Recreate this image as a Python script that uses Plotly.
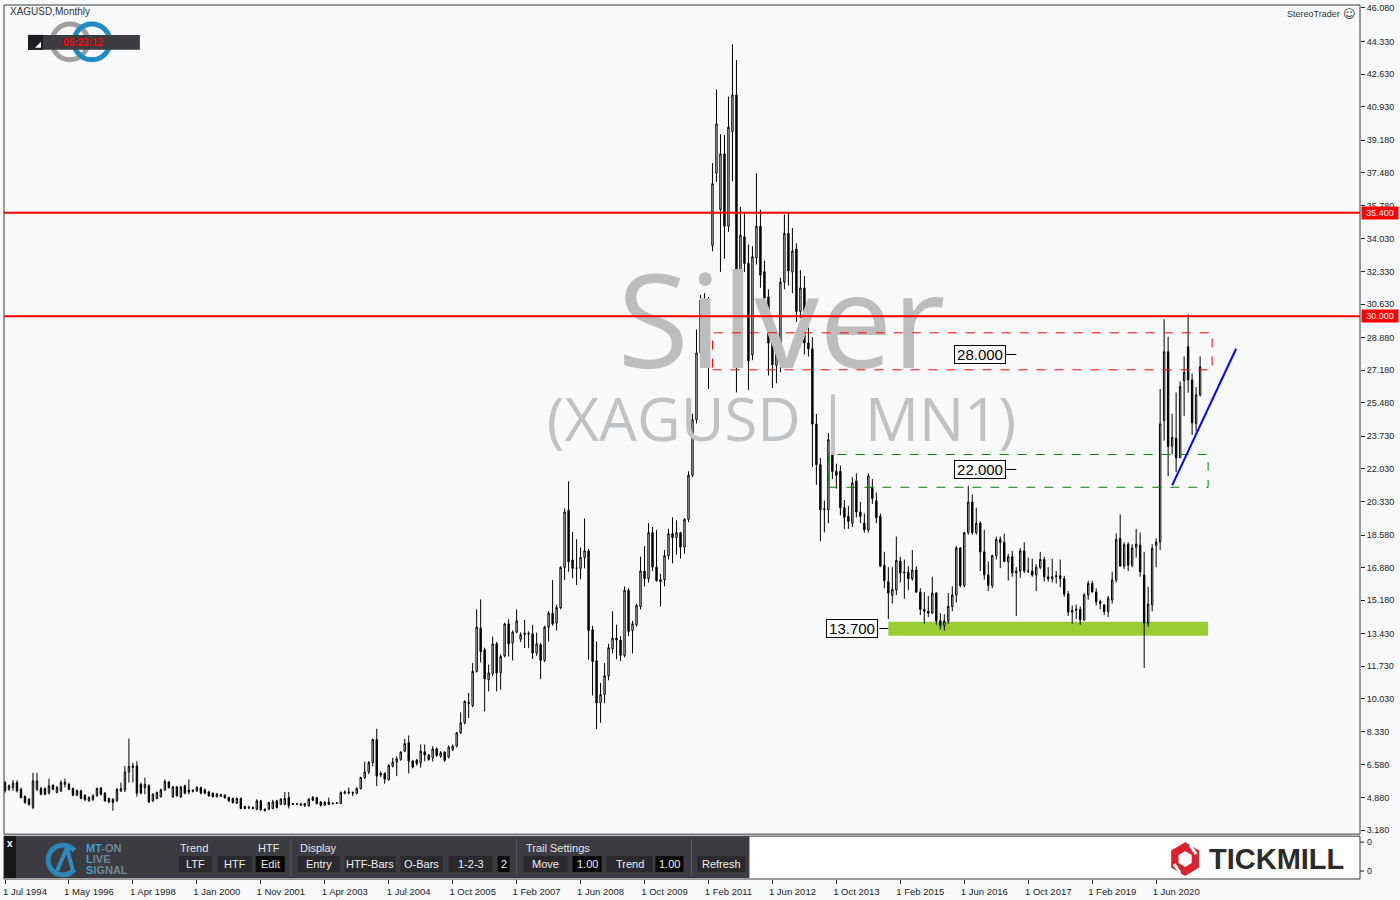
import math
import plotly.graph_objects as go

# ---------------- data (monthly XAGUSD candles) ----------------
bar_index = list(range(300))

opens = [
    5.66, 5.31, 5.40, 5.66, 5.31, 4.93, 4.79, 4.36, 5.31, 5.35,
    5.35, 5.11, 5.52, 5.14, 5.23, 5.57, 5.57, 5.35, 5.00, 5.23,
    5.00, 4.71, 4.76, 4.97, 5.37, 5.11, 4.83, 4.79, 4.71, 5.23,
    5.28, 6.21, 6.45, 6.53, 5.57, 5.40, 5.49, 4.71, 4.83, 4.93,
    5.28, 5.69, 4.91, 5.43, 4.91, 5.49, 5.28, 5.20, 5.23, 5.40,
    5.28, 5.17, 5.11, 4.93, 5.02, 5.00, 4.88, 4.83, 4.59, 4.83,
    4.41, 4.34, 4.36, 4.27, 4.71, 4.27, 4.27, 4.31, 4.71, 4.53,
    4.53, 4.88, 4.57, 4.53, 4.55, 4.57, 4.45, 4.88, 4.88, 4.65,
    4.48, 4.65, 4.55, 4.58, 4.57, 5.10, 5.12, 5.14, 5.11, 5.35,
    5.92, 6.21, 6.70, 7.91, 6.14, 6.14, 5.81, 6.52, 6.73, 6.87,
    7.30, 7.74, 6.78, 6.82, 6.70, 7.27, 7.10, 6.96, 7.42, 7.04,
    7.25, 6.99, 7.39, 7.56, 8.26, 8.78, 9.85, 9.68, 11.46, 13.72,
    12.59, 11.03, 11.34, 12.90, 11.41, 12.28, 13.94, 12.94, 13.51, 13.14,
    13.40, 13.45, 13.42, 12.42, 12.85, 12.04, 13.77, 14.50, 13.98, 14.79,
    16.89, 19.87, 17.27, 16.84, 16.84, 17.41, 17.74, 13.63, 12.02, 9.82,
    10.25, 11.24, 12.65, 13.20, 13.10, 12.30, 15.70, 13.60, 13.90, 14.85,
    16.70, 16.30, 18.70, 16.90, 16.15, 16.25, 17.50, 18.65, 18.45, 18.70,
    17.95, 19.40, 21.70, 24.60, 28.08, 30.88, 28.02, 33.69, 37.46, 35.56,
    38.47, 34.69, 39.63, 41.54, 29.70, 34.14, 32.75, 27.98, 33.04, 34.69,
    32.32, 31.00, 29.07, 27.43, 28.00, 31.78, 34.32, 32.30, 33.50, 30.25,
    31.47, 28.60, 28.30, 24.37, 22.25, 19.90, 19.90, 23.43, 21.90, 21.90,
    20.00, 19.55, 19.20, 21.40, 19.78, 19.20, 18.84, 21.07, 20.37, 19.55,
    17.00, 16.14, 15.43, 15.72, 17.22, 16.60, 16.65, 16.30, 16.75, 15.60,
    14.70, 14.60, 14.50, 15.55, 14.10, 13.85, 14.10, 14.85, 15.45, 17.90,
    15.95, 18.70, 20.30, 18.70, 19.20, 17.70, 16.50, 15.95, 17.50, 18.35,
    18.20, 17.20, 17.45, 16.60, 16.70, 17.75, 16.70, 16.70, 16.50, 16.90,
    17.30, 16.40, 16.30, 16.40, 16.45, 16.30, 15.50, 14.55, 14.65, 14.70,
    14.15, 15.45, 16.05, 15.60, 15.10, 14.93, 14.58, 15.19, 16.23, 18.40,
    16.96, 18.10, 17.00, 17.93, 18.05, 16.49, 13.98, 14.93, 18.04, 18.21,
    24.55, 28.14, 23.21, 23.63, 22.61, 26.63, 28.40, 26.67, 24.40, 25.90,
]
highs = [
    5.75, 5.57, 5.80, 5.78, 5.40, 5.00, 4.85, 6.18, 6.18, 5.45,
    5.40, 5.87, 5.57, 5.49, 5.78, 5.87, 5.66, 5.40, 5.31, 5.28,
    5.05, 4.95, 5.05, 5.40, 5.43, 5.17, 4.88, 4.85, 5.37, 5.66,
    6.53, 7.96, 6.70, 6.78, 5.66, 5.92, 5.57, 5.11, 5.20, 5.35,
    5.83, 5.75, 5.49, 5.49, 5.49, 5.55, 5.83, 5.31, 5.49, 5.45,
    5.35, 5.23, 5.14, 5.11, 5.07, 5.05, 4.93, 4.88, 4.88, 4.88,
    4.45, 4.45, 4.41, 4.79, 4.76, 4.31, 4.66, 4.76, 4.76, 4.85,
    5.17, 5.17, 4.60, 4.59, 4.60, 4.60, 4.85, 4.96, 4.92, 4.70,
    4.70, 4.88, 4.62, 4.65, 5.20, 5.25, 5.40, 5.20, 5.42, 5.97,
    6.75, 6.78, 7.95, 8.47, 6.25, 6.20, 6.62, 6.95, 7.04, 7.30,
    7.95, 8.12, 6.85, 6.90, 7.65, 7.65, 7.15, 7.56, 7.50, 7.30,
    7.30, 7.60, 7.65, 8.30, 9.33, 9.95, 10.34, 11.90, 14.70, 15.22,
    12.70, 11.81, 13.28, 13.00, 12.35, 14.00, 14.18, 13.60, 14.70, 13.50,
    14.15, 13.55, 13.89, 13.49, 12.95, 13.85, 14.60, 16.23, 14.93, 16.95,
    19.96, 21.38, 18.74, 18.36, 17.93, 19.44, 17.85, 13.84, 13.02, 10.86,
    11.90, 12.90, 14.60, 13.90, 13.30, 15.90, 15.80, 14.10, 15.00, 17.45,
    18.00, 19.20, 19.00, 18.85, 16.55, 17.80, 18.90, 19.50, 19.35, 18.75,
    19.45, 21.90, 24.90, 29.30, 31.10, 31.20, 31.00, 37.99, 41.83, 39.49,
    39.45, 41.45, 44.19, 43.36, 35.70, 35.38, 33.74, 33.65, 37.46, 35.56,
    32.90, 31.40, 29.40, 28.90, 32.00, 35.30, 35.42, 34.60, 33.80, 32.40,
    32.10, 29.40, 28.90, 24.90, 22.60, 20.37, 23.90, 25.20, 22.30, 22.20,
    20.40, 20.10, 21.60, 21.80, 20.30, 19.70, 21.80, 21.50, 20.80, 19.70,
    17.70, 16.90, 16.90, 18.50, 17.45, 17.30, 16.95, 17.80, 16.95, 15.80,
    15.60, 15.40, 16.40, 15.60, 14.50, 14.45, 15.55, 15.90, 18.00, 17.95,
    18.75, 21.15, 20.70, 20.00, 19.30, 18.85, 17.20, 17.55, 18.50, 18.50,
    18.65, 17.60, 17.75, 16.90, 17.90, 18.20, 17.40, 17.35, 17.05, 17.70,
    17.45, 16.90, 17.35, 16.70, 17.30, 16.45, 15.65, 14.90, 14.95, 14.85,
    15.55, 16.20, 16.20, 15.80, 15.20, 14.98, 15.40, 16.66, 18.66, 19.66,
    18.20, 18.20, 18.10, 18.90, 18.70, 17.70, 15.88, 18.10, 18.40, 26.20,
    29.84, 28.92, 24.90, 26.02, 26.60, 27.90, 30.10, 27.00, 26.30, 27.90,
]
lows = [
    5.14, 5.23, 5.23, 5.14, 4.83, 4.55, 4.45, 4.27, 5.23, 5.00,
    5.00, 5.05, 5.26, 5.10, 5.17, 5.40, 5.26, 4.95, 4.95, 4.79,
    4.71, 4.66, 4.71, 4.93, 5.00, 4.66, 4.59, 4.19, 4.66, 5.17,
    5.17, 5.66, 5.66, 4.93, 5.05, 5.05, 4.59, 4.65, 4.79, 4.88,
    5.23, 5.35, 4.86, 4.93, 4.86, 5.05, 5.05, 5.14, 5.17, 5.05,
    5.05, 4.93, 4.88, 4.88, 4.91, 4.83, 4.66, 4.57, 4.55, 4.27,
    4.27, 4.27, 4.27, 4.22, 4.19, 4.15, 4.22, 4.27, 4.31, 4.48,
    4.48, 4.31, 4.50, 4.50, 4.45, 4.40, 4.40, 4.70, 4.52, 4.40,
    4.45, 4.50, 4.53, 4.55, 4.53, 5.05, 5.05, 4.95, 5.05, 5.30,
    5.85, 6.10, 6.52, 5.48, 5.95, 5.60, 5.76, 6.45, 6.00, 6.80,
    7.25, 6.14, 6.40, 6.55, 6.44, 6.78, 6.80, 6.76, 7.00, 6.95,
    6.75, 6.92, 7.30, 7.50, 8.20, 8.70, 9.03, 9.60, 11.40, 11.93,
    9.38, 10.42, 11.20, 10.42, 10.51, 12.20, 12.24, 12.04, 13.45, 13.00,
    12.68, 12.68, 12.11, 12.28, 11.06, 11.95, 13.02, 13.85, 13.60, 14.70,
    16.23, 16.66, 16.32, 15.97, 16.27, 16.84, 12.07, 10.20, 8.46, 8.78,
    9.80, 11.00, 12.40, 12.10, 12.00, 12.20, 13.30, 12.40, 13.80, 14.70,
    15.90, 16.10, 16.70, 16.15, 14.85, 15.90, 17.30, 17.10, 17.55, 17.35,
    17.60, 19.25, 21.60, 24.40, 27.80, 27.70, 26.20, 33.39, 37.00, 32.31,
    33.00, 34.40, 37.03, 26.02, 28.45, 32.30, 26.15, 27.70, 32.70, 31.48,
    30.48, 26.90, 26.25, 26.50, 27.07, 31.40, 31.60, 31.20, 29.70, 29.90,
    28.00, 27.90, 22.13, 21.20, 18.25, 18.72, 19.20, 21.50, 21.00, 19.60,
    18.90, 18.90, 19.00, 19.50, 19.20, 18.70, 18.70, 20.20, 19.20, 16.90,
    15.80, 14.20, 15.00, 15.45, 16.10, 15.25, 15.70, 16.20, 15.55, 14.40,
    13.95, 14.30, 14.45, 13.90, 13.65, 13.60, 13.95, 14.60, 15.05, 15.85,
    15.85, 18.60, 18.60, 18.60, 16.70, 16.25, 15.65, 15.80, 17.30, 16.85,
    17.15, 16.20, 16.40, 14.35, 16.35, 16.60, 16.60, 16.40, 15.65, 16.80,
    16.15, 16.15, 16.10, 16.05, 15.85, 15.35, 14.35, 13.95, 14.20, 13.90,
    14.10, 15.20, 15.60, 14.90, 14.70, 14.40, 14.30, 15.00, 16.10, 16.95,
    16.80, 16.70, 16.90, 17.40, 16.40, 11.64, 13.80, 14.60, 16.90, 17.80,
    23.50, 21.65, 22.80, 21.86, 22.60, 24.80, 26.00, 23.80, 24.00, 25.80,
]
closes = [
    5.23, 5.49, 5.63, 5.23, 4.88, 4.62, 4.53, 5.75, 5.75, 5.05,
    5.05, 5.49, 5.31, 5.40, 5.66, 5.69, 5.31, 5.00, 5.23, 4.83,
    4.76, 4.88, 4.97, 5.35, 5.05, 4.71, 4.65, 4.62, 5.31, 5.35,
    6.21, 6.50, 6.53, 5.11, 5.11, 5.57, 4.65, 5.05, 5.14, 5.28,
    5.71, 5.40, 5.43, 4.97, 5.43, 5.11, 5.17, 5.26, 5.40, 5.11,
    5.11, 4.97, 4.93, 5.07, 4.95, 4.86, 4.71, 4.62, 4.83, 4.31,
    4.31, 4.37, 4.31, 4.71, 4.24, 4.20, 4.62, 4.65, 4.36, 4.79,
    4.83, 4.45, 4.53, 4.55, 4.48, 4.45, 4.79, 4.74, 4.57, 4.48,
    4.62, 4.53, 4.58, 4.60, 5.14, 5.17, 5.16, 5.11, 5.35, 5.92,
    6.21, 6.70, 7.91, 6.00, 6.06, 5.83, 6.56, 6.73, 6.90, 7.25,
    7.70, 6.78, 6.47, 6.65, 7.30, 7.10, 6.87, 7.42, 7.08, 7.22,
    6.82, 7.51, 7.56, 8.26, 8.78, 9.90, 9.80, 11.46, 13.77, 12.50,
    11.06, 11.38, 12.90, 11.38, 12.24, 13.94, 12.90, 13.51, 14.10, 13.37,
    13.45, 13.42, 12.42, 12.90, 12.04, 13.77, 14.50, 13.94, 14.79, 16.89,
    19.78, 17.18, 16.84, 16.86, 17.41, 17.76, 13.60, 11.98, 9.82, 10.25,
    11.24, 12.70, 13.20, 13.10, 12.30, 15.70, 13.55, 13.95, 14.90, 16.70,
    16.30, 18.70, 16.90, 16.20, 16.25, 17.50, 18.65, 18.45, 18.70, 17.95,
    19.40, 21.70, 24.60, 28.08, 30.83, 29.58, 30.62, 36.91, 40.03, 38.47,
    34.69, 39.86, 41.54, 29.63, 34.22, 32.75, 27.67, 33.10, 34.69, 32.14,
    30.95, 28.60, 27.47, 28.60, 31.78, 34.32, 32.36, 33.40, 30.25, 31.47,
    28.60, 28.30, 24.37, 22.25, 19.90, 19.95, 23.55, 21.90, 21.70, 20.00,
    19.50, 19.30, 21.30, 19.78, 19.55, 18.84, 21.66, 20.49, 19.48, 16.96,
    16.20, 15.55, 15.74, 17.25, 16.60, 16.65, 16.30, 16.75, 15.60, 14.70,
    14.60, 14.50, 15.55, 14.10, 13.85, 14.10, 14.85, 15.45, 17.90, 15.95,
    18.70, 20.30, 18.70, 19.20, 17.70, 16.50, 15.95, 17.50, 18.35, 18.20,
    17.20, 17.45, 16.60, 16.70, 17.75, 16.70, 16.70, 16.50, 16.90, 17.30,
    16.40, 16.30, 16.40, 16.45, 16.30, 15.50, 14.55, 14.65, 14.70, 14.15,
    15.45, 16.05, 15.60, 15.10, 15.00, 14.58, 15.28, 16.23, 18.35, 16.96,
    18.08, 17.00, 17.90, 18.10, 16.66, 13.98, 14.98, 17.88, 18.21, 24.38,
    28.14, 23.21, 23.68, 22.61, 26.32, 27.06, 26.67, 24.43, 25.90, 27.36,
]

x_tick_index = list(range(0, 289, 16))
x_tick_text = ["1 Jul 1994", "1 May 1996", "1 Apr 1998", "1 Jan 2000", "1 Nov 2001",
               "1 Apr 2003", "1 Jul 2004", "1 Oct 2005", "1 Feb 2007", "1 Jun 2008",
               "1 Oct 2009", "1 Feb 2011", "1 Jun 2012", "1 Oct 2013", "1 Feb 2015",
               "1 Jun 2016", "1 Oct 2017", "1 Feb 2019", "1 Jun 2020"]
y_tick_values = [46.08, 44.33, 42.63, 40.93, 39.18, 37.48, 35.78, 34.03, 32.33, 30.63,
                 28.88, 27.18, 25.48, 23.73, 22.03, 20.33, 18.58, 16.88, 15.18, 13.43,
                 11.73, 10.03, 8.33, 6.58, 4.88, 3.18]

resistance_levels = [35.4, 30.0]
zone_28 = dict(x0=177, x1=302, y0=27.20, y1=29.13)
zone_22 = dict(x0=206, x1=301, y0=21.07, y1=22.78)
support_zone = dict(x0=221, x1=301, y0=13.32, y1=14.05)
level_labels = [("28.000", 244, 28.0, 250.5, 253.0),
                ("22.000", 244, 22.0, 250.5, 253.0),
                ("13.700", 212, 13.7, 218.75, 221.0)]
trend_line = dict(x0=292, y0=21.17, x1=308, y1=28.30)
timer_text = "05:23:12"

# ---------------- geometry helpers (layout pixels -> paper) ----------------
L, R, T, B = 3, 1360, 3, 880
def PX(px):
    return (px - L) / (R - L)
def PY(py):
    return (B - py) / (B - T)

BG = "#F8F9FB"
FONT = "Liberation Sans"
shapes = []
annotations = []

def rect(x0, y0, x1, y1, fill=None, line=None, lw=1, layer="above"):
    d = dict(type="rect", xref="paper", yref="paper", x0=PX(x0), x1=PX(x1),
             y0=PY(y1), y1=PY(y0), layer=layer,
             line=dict(width=lw if line else 0, color=line or "rgba(0,0,0,0)"))
    if fill:
        d["fillcolor"] = fill
    shapes.append(d)

def pline(x0, y0, x1, y1, color, lw=1):
    shapes.append(dict(type="line", xref="paper", yref="paper", x0=PX(x0), x1=PX(x1),
                       y0=PY(y0), y1=PY(y1), line=dict(color=color, width=lw)))

def ppath(points, fill):
    path = "M " + " L ".join(f"{PX(x)},{PY(y)}" for x, y in points) + " Z"
    shapes.append(dict(type="path", xref="paper", yref="paper", path=path,
                       fillcolor=fill, line=dict(width=0)))

def text(t, px, py, size=10, color="#222222", xanchor="left", yanchor="middle",
         family=FONT, **kw):
    annotations.append(dict(text=t, xref="paper", yref="paper", x=PX(px), y=PY(py),
                            xanchor=xanchor, yanchor=yanchor, showarrow=False,
                            font=dict(size=size, color=color, family=family), **kw))

# ---------------- figure ----------------
fig = go.Figure()

fig.add_trace(go.Scatter(x=[194.25], y=[28.97], mode="text", text=["Silver"],
                         textposition="middle center", hoverinfo="skip",
                         textfont=dict(family="Open Sans", size=130, color="#BDBDBD")))
fig.add_trace(go.Scatter(x=[194.25], y=[24.25], mode="text", text=["(XAGUSD | MN1)"],
                         textposition="middle center", hoverinfo="skip",
                         textfont=dict(family="Open Sans", size=60, color="#C2C2C2")))

fig.add_trace(go.Candlestick(
    x=bar_index, open=opens, high=highs, low=lows, close=closes,
    increasing=dict(line=dict(color="#000000", width=1), fillcolor="#FFFFFF"),
    decreasing=dict(line=dict(color="#000000", width=1), fillcolor="#000000"),
    whiskerwidth=0, hoverinfo="skip"))

# support zone (below candles)
shapes.append(dict(type="rect", xref="x", yref="y", layer="below",
                   x0=support_zone["x0"], x1=support_zone["x1"],
                   y0=support_zone["y0"], y1=support_zone["y1"],
                   fillcolor="#9ACD32", line=dict(width=0)))
# dashed zones
for z, col in ((zone_28, "#FF0000"), (zone_22, "#008000")):
    shapes.append(dict(type="rect", xref="x", yref="y", x0=z["x0"], x1=z["x1"],
                       y0=z["y0"], y1=z["y1"], line=dict(color=col, width=1, dash="dash")))
# resistance lines
for lv in resistance_levels:
    shapes.append(dict(type="line", xref="paper", yref="y", x0=0, x1=1, y0=lv, y1=lv,
                       line=dict(color="#FF0000", width=2)))
# trend line
shapes.append(dict(type="line", xref="x", yref="y", x0=trend_line["x0"], y0=trend_line["y0"],
                   x1=trend_line["x1"], y1=trend_line["y1"], line=dict(color="#0000FF", width=2)))
# level labels with leader ticks
for txt, xc, lv, lx0, lx1 in level_labels:
    annotations.append(dict(text=txt, x=xc, y=lv, xref="x", yref="y", showarrow=False,
                            font=dict(size=15, color="#000000", family=FONT),
                            bgcolor="#FFFFFF", bordercolor="#000000", borderwidth=1,
                            borderpad=0, width=50, height=17))
    shapes.append(dict(type="line", xref="x", yref="y", x0=lx0, x1=lx1, y0=lv, y1=lv,
                       line=dict(color="#000000", width=1)))
# red price tags on axis
for lv in resistance_levels:
    annotations.append(dict(text=f"{lv:.3f}", xref="paper", yref="y", x=PX(1361), y=lv,
                            xanchor="left", yanchor="middle", showarrow=False,
                            font=dict(size=9, color="#FFFFFF", family=FONT),
                            bgcolor="#FF0000", borderpad=1, width=34))

# frames
rect(3, 3, 1360, 835, line="#3A3A3A")
rect(3, 837, 1360, 880, fill="#FFFFFF", line="#3A3A3A", layer="below")
for ty in (843, 872):
    pline(1360, ty, 1364, ty, "#222222")
    text("0", 1365, ty, size=9)

# header texts
text("XAGUSD,Monthly", 7, 10, size=10, color="#333333")
text("StereoTrader", 1342, 12, size=9, color="#333333", xanchor="right")
text("\u263A", 1349, 12, size=12, color="#333333", xanchor="center", family="DejaVu Sans")

# timer logo
for cx, col in ((69, "#A0A0A0"), (91, "#1E8BC3")):
    shapes.append(dict(type="circle", xref="paper", yref="paper",
                       x0=PX(cx - 18), x1=PX(cx + 18), y0=PY(58), y1=PY(22),
                       line=dict(color=col, width=5)))
rect(27, 33, 139, 48, fill="#3C3B41")
rect(27, 33, 42, 48, fill="#1E1E22")
ppath([(34, 46), (40, 46), (40, 40)], "#FFFFFF")
text("<b>" + timer_text + "</b>", 82, 41, size=10, color="#FF0000", xanchor="center")

# toolbar
rect(3, 837, 749, 879, fill="#3C3B41")
rect(3, 837, 15, 879, fill="#18181B")
text("<b>x</b>", 9, 844, size=10, color="#FFFFFF", xanchor="center")
# MT-ON icon: open blue ring with a slanted stroke
arc = [(62 + 15 * math.cos(math.radians(a)), 861 - 15 * math.sin(math.radians(a)))
       for a in range(40, 330, 10)]
for (xa, ya), (xb, yb) in zip(arc[:-1], arc[1:]):
    pline(xa, ya, xb, yb, "#2E8BC0", 5)
pline(56, 872, 66, 849, "#2E8BC0", 4)
pline(66, 849, 72, 872, "#2E8BC0", 4)
text("<b><span style='color:#3BA3DA'>MT</span>-ON</b>", 83, 849, size=11, color="#6F8796")
text("<b><span style='color:#3BA3DA'>L</span>IVE</b>", 83, 860, size=11, color="#6F8796")
text("<b><span style='color:#3BA3DA'>S</span>IGNAL</b>", 83, 871, size=11, color="#6F8796")

for lab, lx in (("Trend", 177), ("HTF", 255), ("Display", 297), ("Trail Settings", 523)):
    text(lab, lx, 849, size=11, color="#E6E6E6")
for sx in (290, 516, 691):
    pline(sx, 840, sx, 877, "#5A5A5E")
buttons = [("LTF", 178, 211, "#2A292E"), ("HTF", 217, 251, "#2A292E"), ("Edit", 255, 284, "#050505"),
           ("Entry", 297, 339, "#2A292E"), ("HTF-Bars", 344, 395, "#2A292E"),
           ("O-Bars", 400, 442, "#2A292E"), ("1-2-3", 448, 492, "#2A292E"), ("2", 497, 509, "#050505"),
           ("Move", 523, 567, "#2A292E"), ("1.00", 572, 601, "#050505"), ("Trend", 606, 652, "#2A292E"),
           ("1.00", 655, 683, "#050505"), ("Refresh", 697, 745, "#2A292E")]
for lab, bx0, bx1, bcol in buttons:
    rect(bx0, 857, bx1, 873, fill=bcol)
    text(lab, (bx0 + bx1) / 2, 865, size=11, color="#F0F0F0", xanchor="center")

# Tickmill logo
def hexpts(cx, cy, r):
    return [(cx + r * math.cos(math.radians(90 + 60 * k)) * 0.95,
             cy - r * math.sin(math.radians(90 + 60 * k))) for k in range(6)]
ppath(hexpts(1185, 860, 17), "#D7232E")
ppath(hexpts(1185, 860, 8), "#FFFFFF")
pline(1190, 846, 1196, 855, "#FFFFFF", 3)
pline(1174, 865, 1180, 874, "#FFFFFF", 3)
text("<b>TICKMILL</b>", 1207, 860, size=29, color="#2B2B2B")

fig.update_layout(
    width=1400, height=900,
    margin=dict(l=L, r=1400 - R, t=T, b=900 - B),
    paper_bgcolor=BG, plot_bgcolor=BG,
    showlegend=False, boxgap=0.5,
    shapes=shapes, annotations=annotations,
    xaxis=dict(range=[-0.25, 339.0], anchor="free", position=0,
               tickvals=x_tick_index, ticktext=x_tick_text, ticks="outside", ticklen=4,
               tickcolor="#222222", showgrid=False, zeroline=False, showline=False,
               rangeslider=dict(visible=False), ticklabelshift=20,
               tickfont=dict(size=9.5, family=FONT, color="#222222")),
    yaxis=dict(domain=[(B - 835) / (B - T), 1], range=[2.97, 46.236], side="right",
               tickvals=y_tick_values, ticktext=[f"{v:.3f}" for v in y_tick_values],
               ticks="outside", ticklen=4, tickcolor="#222222", showgrid=False,
               zeroline=False, showline=False,
               tickfont=dict(size=9, family=FONT, color="#222222")),
)

fig.write_html("out.html", config={"displayModeBar": False},
               post_script="document.body.style.margin='0';document.body.style.overflow='hidden';")
